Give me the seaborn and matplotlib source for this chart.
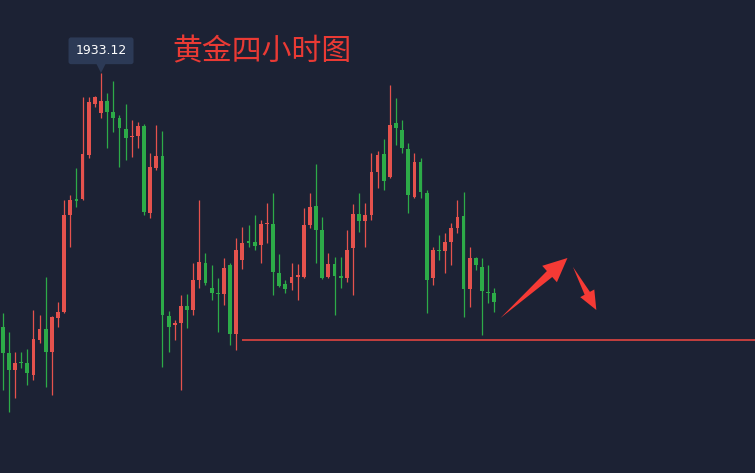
import numpy as np
import pandas as pd
import matplotlib.pyplot as plt
import matplotlib.transforms as mtransforms
import seaborn as sns

# 黄金 4小时 K线 (红涨绿跌)
opens = [1907.7, 1905.1, 1903.4, 1904.2, 1904.1, 1902.9, 1906.4, 1907.5, 1905.2, 1908.6,
         1909.2, 1918.9, 1920.5, 1920.5, 1924.9, 1930.0, 1929.1, 1930.3, 1929.2, 1928.6,
         1927.5, 1926.7, 1926.8, 1927.8, 1919.1, 1923.6, 1924.8, 1908.8, 1907.9, 1908.1,
         1909.8, 1909.4, 1912.4, 1914.1, 1911.6, 1911.1, 1911.0, 1913.9, 1907.0, 1914.4,
         1916.3, 1916.2, 1915.9, 1918.0, 1918.0, 1913.1, 1912.0, 1912.1, 1912.7, 1912.7,
         1917.9, 1919.8, 1917.4, 1912.7, 1914.0, 1912.8, 1912.6, 1915.6, 1919.0, 1918.3,
         1918.9, 1923.2, 1925.0, 1922.7, 1928.1, 1927.4, 1925.5, 1920.7, 1924.2, 1921.1,
         1912.6, 1915.4, 1915.3, 1916.2, 1917.6, 1918.8, 1911.5, 1914.6, 1913.7, 1911.2,
         1911.1]
closes = [1905.1, 1903.4, 1904.1, 1904.1, 1903.1, 1906.5, 1907.5, 1905.2, 1908.7, 1909.2,
          1918.9, 1920.4, 1920.3, 1925.0, 1930.2, 1930.7, 1930.3, 1929.2, 1928.6, 1927.6,
          1926.6, 1926.8, 1927.8, 1919.2, 1923.7, 1924.8, 1908.9, 1907.7, 1908.1, 1909.8,
          1909.4, 1912.4, 1914.2, 1912.1, 1911.1, 1911.0, 1913.6, 1907.0, 1915.4, 1916.1,
          1916.1, 1915.8, 1918.0, 1918.1, 1913.2, 1911.8, 1911.5, 1912.7, 1912.8, 1917.9,
          1919.7, 1917.4, 1912.6, 1914.0, 1912.8, 1912.6, 1915.4, 1919.0, 1918.3, 1918.9,
          1923.2, 1924.9, 1922.3, 1927.9, 1927.6, 1925.6, 1920.9, 1924.2, 1921.2, 1912.4,
          1915.4, 1915.3, 1916.2, 1917.6, 1918.7, 1911.5, 1914.6, 1913.9, 1911.3, 1911.1,
          1910.2]
highs = [1909.1, 1907.2, 1905.2, 1905.2, 1905.5, 1909.4, 1908.9, 1912.7, 1908.8, 1910.2,
         1920.4, 1920.9, 1923.6, 1930.7, 1930.7, 1930.8, 1933.12, 1931.1, 1932.3, 1928.9,
         1930.0, 1928.4, 1928.2, 1928.0, 1925.1, 1927.9, 1927.3, 1909.3, 1908.4, 1910.9,
         1911.0, 1914.1, 1920.4, 1915.1, 1913.9, 1912.6, 1914.6, 1914.1, 1916.6, 1917.7,
         1917.9, 1918.9, 1918.4, 1920.1, 1921.1, 1915.0, 1912.4, 1914.1, 1914.0, 1919.6,
         1921.1, 1924.0, 1918.7, 1915.1, 1914.7, 1914.7, 1917.4, 1920.0, 1921.1, 1920.1,
         1925.1, 1925.3, 1926.5, 1931.9, 1930.6, 1928.4, 1926.1, 1925.1, 1924.6, 1921.4,
         1915.7, 1916.9, 1917.1, 1918.1, 1920.4, 1921.2, 1915.7, 1914.7, 1914.6, 1913.9,
         1911.6]
lows = [1901.4, 1899.2, 1900.6, 1903.6, 1901.9, 1902.4, 1906.1, 1901.7, 1900.9, 1907.7,
        1909.1, 1915.7, 1919.7, 1920.4, 1924.6, 1929.7, 1928.6, 1925.6, 1927.2, 1923.7,
        1924.4, 1924.7, 1925.6, 1918.9, 1918.6, 1923.4, 1903.7, 1905.2, 1906.4, 1901.4,
        1907.6, 1908.9, 1911.6, 1911.9, 1910.4, 1907.2, 1909.9, 1905.9, 1905.4, 1913.5,
        1915.7, 1915.4, 1914.1, 1916.1, 1910.9, 1911.7, 1911.1, 1911.4, 1910.4, 1912.6,
        1917.6, 1914.1, 1912.5, 1912.6, 1908.9, 1911.6, 1912.2, 1910.9, 1917.2, 1915.7,
        1918.4, 1921.6, 1921.4, 1922.6, 1925.9, 1925.1, 1919.1, 1920.6, 1920.6, 1909.1,
        1911.9, 1914.4, 1913.1, 1913.9, 1917.1, 1908.7, 1909.7, 1913.4, 1906.9, 1910.1,
        1909.2]

support_level = 1906.45
support_start = 39
title_text = "黄金四小时图"

df = pd.DataFrame({"open": opens, "close": closes, "high": highs, "low": lows})
df["idx"] = np.arange(len(df))
df["up"] = df["close"] >= df["open"]

bg = "#1c2234"
red = "#e5524d"
green = "#2dab48"

sns.set_theme(style="dark", rc={"axes.facecolor": bg, "figure.facecolor": bg})
plt.rcParams["font.family"] = ["Noto Sans CJK SC", "DejaVu Sans"]

fig = plt.figure(figsize=(7.55, 4.73), dpi=100)
ax = fig.add_axes([0, 0, 1, 1])
ax.set_xlim(-0.44, 122.42)
ax.set_ylim(1893.1, 1940.4)

colors = np.where(df["up"], red, green)
ax.vlines(df["idx"], df["low"], df["high"], colors=colors, linewidth=0.9, zorder=2)
body_bottom = np.minimum(df["open"], df["close"])
body_height = np.maximum((df["close"] - df["open"]).abs(), 0.15)
ax.bar(df["idx"], body_height, bottom=body_bottom, width=0.62, color=colors,
       linewidth=0, zorder=3)

# 支撑线
ax.hlines(support_level, support_start, 130, colors="#e0443f", linewidth=1.2, zorder=1)


# 箭头: 尾部尖细, 头部三角
def draw_arrow(start, end, head_len, head_w, shaft_w, color="#f53a35"):
    p0 = ax.transData.transform(start)
    p1 = ax.transData.transform(end)
    d = (p1 - p0) / np.linalg.norm(p1 - p0)
    n = np.array([-d[1], d[0]])
    base = p1 - d * head_len
    pts = [p0,
           base + n * shaft_w / 2,
           base + n * head_w / 2,
           p1,
           base - n * head_w / 2,
           base - n * shaft_w / 2]
    pts = np.array(pts)
    ax.fill(pts[:, 0], pts[:, 1], color=color, lw=0, zorder=6,
            transform=mtransforms.IdentityTransform())


draw_arrow((81.0, 1908.6), (91.9, 1914.6), head_len=24, head_w=22, shaft_w=8)
draw_arrow((92.8, 1913.7), (96.6, 1909.4), head_len=19, head_w=16, shaft_w=6)

# 最高价标签
top = df["high"].idxmax()
ax.plot(top, df["high"][top] + 0.6, marker="v", markersize=8, color="#2c3a56",
        markeredgewidth=0, zorder=4)
ax.annotate(f"{df['high'][top]:.2f}", xy=(top, df["high"][top]), xytext=(0, 22),
            textcoords="offset pixels", ha="center", va="center", fontsize=9,
            color="white", family=["DejaVu Sans"],
            bbox=dict(boxstyle="round,pad=0.55,rounding_size=0.2", fc="#2c3a56", ec="none"),
            zorder=5)

fig.text(262 / 755, 1 - 52 / 473, title_text, ha="center", va="center",
         fontsize=21.5, color="#ea3a34")

ax.set_xticks([])
ax.set_yticks([])
for s in ax.spines.values():
    s.set_visible(False)

fig.savefig("out.png", dpi=100, facecolor=bg)
